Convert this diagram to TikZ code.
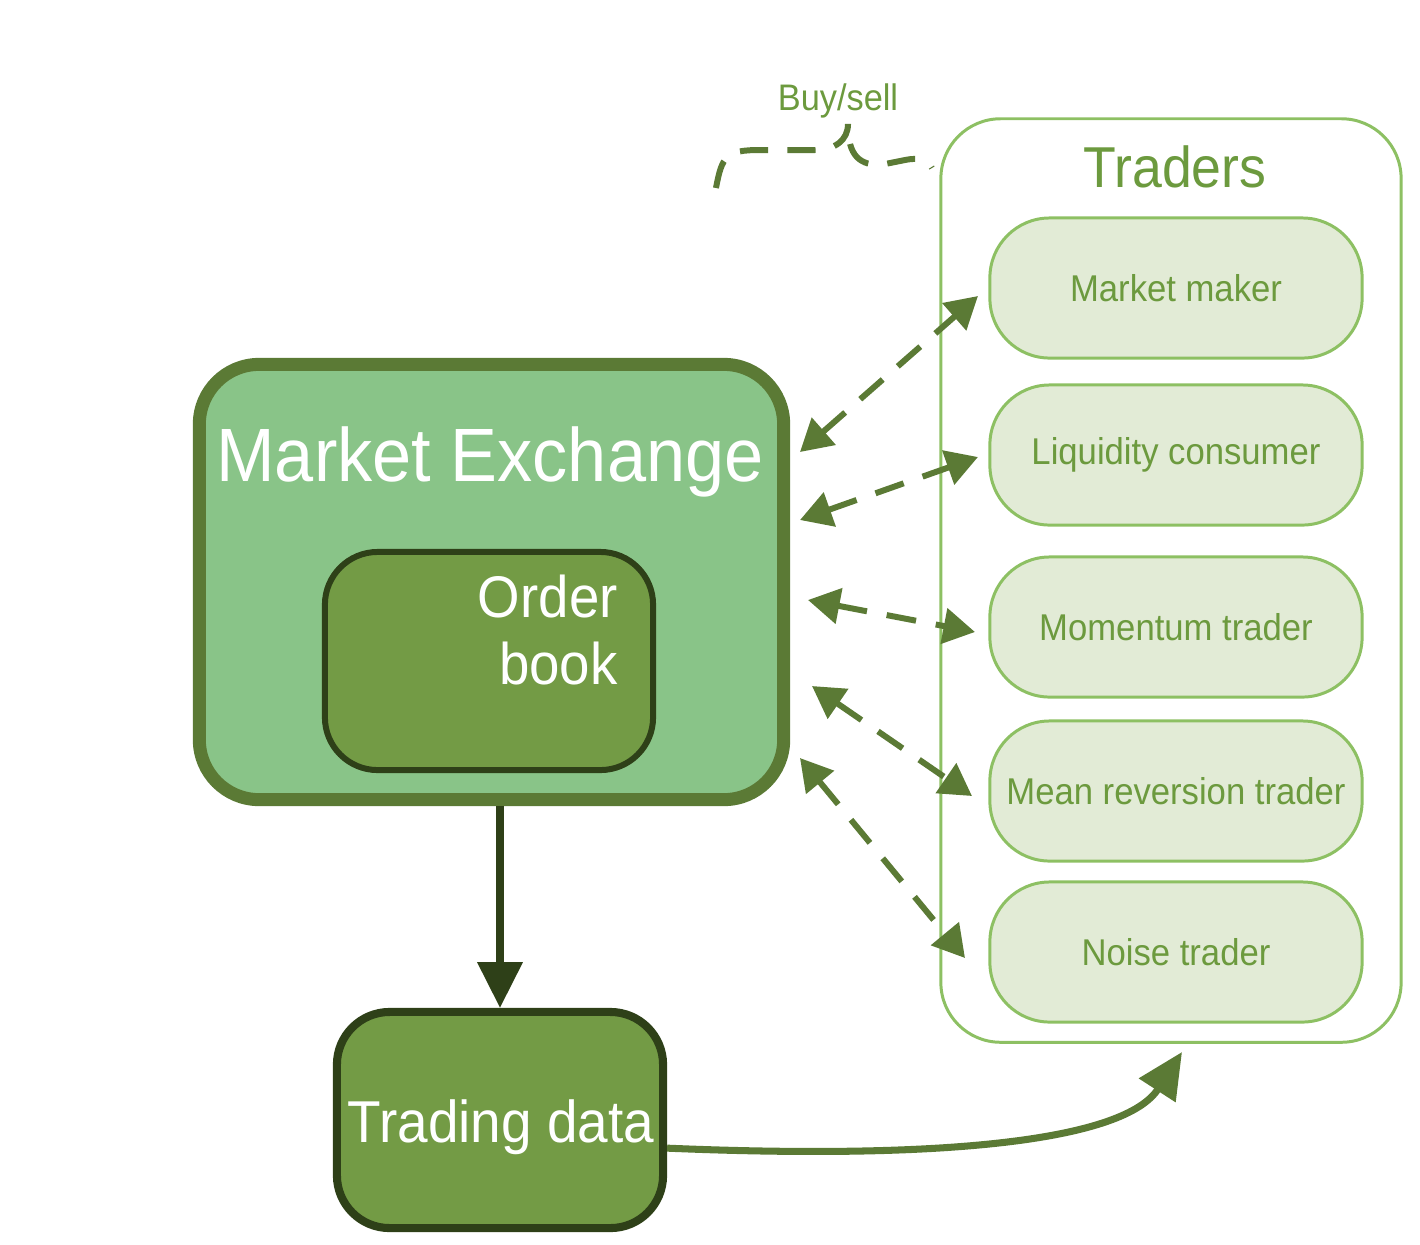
\documentclass[tikz,border=0pt]{standalone}
\usepackage{fontspec}
\setmainfont{Liberation Sans}[FakeStretch=0.93]
\usetikzlibrary{arrows.meta}
\definecolor{meFill}{HTML}{89C488}
\definecolor{meDraw}{HTML}{5B7A35}
\definecolor{obFill}{HTML}{739B45}
\definecolor{obDraw}{HTML}{2E4018}
\definecolor{trFill}{HTML}{E2EBD6}
\definecolor{trDraw}{HTML}{8DC063}
\definecolor{txtGreen}{HTML}{6C9A3E}
\definecolor{arrGreen}{HTML}{5B7A35}
\tikzset{
  mebox/.style={draw=meDraw, fill=meFill, line width=3.7pt, rounded corners=17pt,
    minimum width=5.84cm, minimum height=4.35cm, inner sep=0pt},
  darkbox/.style={draw=obDraw, fill=obFill, rounded corners=15pt, inner sep=0pt},
  container/.style={draw=trDraw, line width=0.85pt, rounded corners=17pt,
    minimum width=4.6cm, minimum height=9.23cm, inner sep=0pt},
  traderbox/.style={draw=trDraw, fill=trFill, line width=0.85pt, rounded corners=17pt,
    minimum width=3.72cm, minimum height=1.4cm, inner sep=0pt,
    text=txtGreen, font=\fontsize{10.6}{12}\selectfont},
  whitetxt/.style={text=white},
  duplex/.style={draw=arrGreen, line width=1.7pt, dash pattern=on 8.5pt off 5.7pt,
    {Triangle[length=9pt,width=10pt]}-{Triangle[length=9pt,width=10pt]}},
}
\begin{document}
\begin{tikzpicture}[x=0.01cm,y=-0.01cm]
\useasboundingbox (0,0) rectangle (1420,1244);
% Market exchange
\node[mebox] (me) at (491.5,582) {};
\node[whitetxt, font=\fontsize{21.5}{24}\selectfont] (metxt) at (490,462) {Market Exchange};
\node[darkbox, line width=1.7pt, minimum width=3.28cm, minimum height=2.18cm] (ob) at (489,661) {};
\node[whitetxt, font=\fontsize{16.7}{19}\selectfont, align=right, anchor=east] (obtxt) at (630,630) {Order\\book};
% Trading data
\node[darkbox, line width=2.3pt, minimum width=3.26cm, minimum height=2.16cm] (td) at (500,1120) {};
\node[whitetxt, font=\fontsize{16.8}{19}\selectfont] (tdtxt) at (501,1127) {Trading data};
% Traders
\node[container] (traders) at (1171,580.5) {};
\node[text=txtGreen, font=\fontsize{16.4}{19}\selectfont] (tradtitle) at (1175,167) {Traders};
\node[traderbox] (mm) at (1176,288) {Market maker};
\node[traderbox] (lc) at (1176,455) {Liquidity consumer};
\node[traderbox] (mt) at (1176,627) {Momentum trader};
\node[traderbox] (mr) at (1176,791) {Mean reversion trader};
\node[traderbox] (nt) at (1176,952) {Noise trader};
% Buy/sell
\node[text=txtGreen, font=\fontsize{10.5}{12}\selectfont] (buysell) at (838,101) {Buy/sell};
\draw[draw=arrGreen, line width=1.7pt, dash pattern=on 8pt off 5.5pt]
  (716,188) .. controls (722,156) and (726,150) .. (760,150) -- (815,150)
  .. controls (835,150) and (848,140) .. (848,124)
  .. controls (848,150) and (855,165) .. (880,165) -- (905,160)
  .. controls (920,157) and (928,160) .. (932,168);
% endpoints of dashed arrows
\coordinate (m1) at (800,452); \coordinate (t1) at (978,296);
\coordinate (m2) at (800,520); \coordinate (t2) at (978,457);
\coordinate (m3) at (808,600); \coordinate (t3) at (975,632);
\coordinate (m4) at (812,686); \coordinate (t4) at (972,796);
\coordinate (m5) at (800,758); \coordinate (t5) at (965,958);
\draw[duplex] (m1) -- (t1);
\draw[duplex] (m2) -- (t2);
\draw[duplex] (m3) -- (t3);
\draw[duplex] (m4) -- (t4);
\draw[duplex] (m5) -- (t5);
% exchange to trading data
\draw[draw=obDraw, line width=2pt, -{Triangle[length=13pt,width=12.5pt]}]
  (me.south -| td.north) -- (td.north);
% trading data to traders
\coordinate (feed) at (1182,1052);
\draw[draw=arrGreen, line width=2pt, -{Triangle[length=13pt,width=12pt]}]
  ([yshift=-8pt]td.east) .. controls (950,1160) and (1125,1140) .. (feed);
\end{tikzpicture}
\end{document}
